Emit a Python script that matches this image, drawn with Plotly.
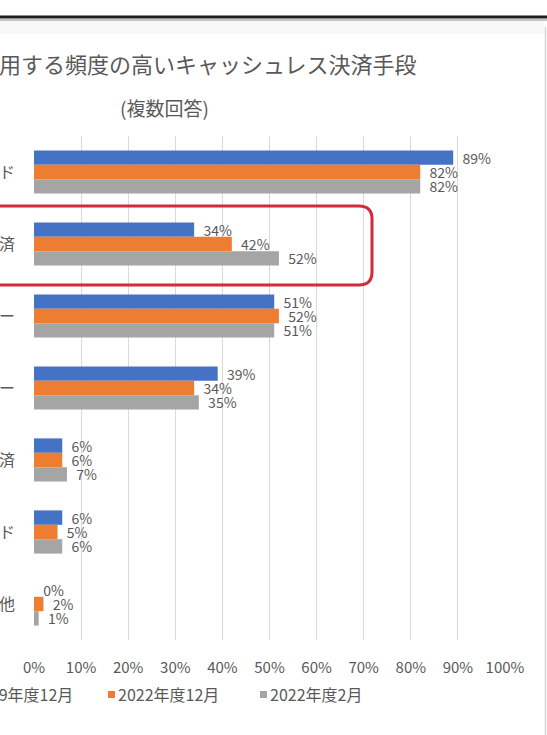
import plotly.graph_objects as go

categories = ["クレジットカード", "QRコード決済", "交通系電子マネー", "流通系電子マネー",
              "スマホのタッチ決済", "デビットカード", "その他"]
series_names = ["2019年度12月", "2022年度12月", "2022年度2月"]
vals_2019_12 = [0.89, 0.34, 0.51, 0.39, 0.06, 0.06, 0.00]
vals_2022_12 = [0.82, 0.42, 0.52, 0.34, 0.06, 0.05, 0.02]
vals_2022_02 = [0.82, 0.52, 0.51, 0.35, 0.07, 0.06, 0.01]
colors = ["#4472C4", "#ED7D31", "#A5A5A5"]
x_ticks = [i / 10 for i in range(11)]
title_line1 = "よく利用する頻度の高いキャッシュレス決済手段"
title_line2 = "(複数回答)"

W, H = 547, 735
L, R, T, B = 34, 42, 136, 95
PW, PH = W - L - R, H - T - B
FONT = "Noto Sans CJK JP, Noto Sans, sans-serif"
GRAY_TXT = "#595959"


def px_x(p):
    return (p - L) / PW


def px_y(p):
    return (H - B - p) / PH


fig = go.Figure()
for name, vals, col in zip(series_names, [vals_2019_12, vals_2022_12, vals_2022_02], colors):
    fig.add_trace(go.Bar(
        y=categories, x=vals, name=name, orientation="h",
        marker=dict(color=col, line=dict(width=0)),
        texttemplate="\u00a0\u00a0%{x:.0%}", textposition="outside",
        textfont=dict(size=14, color=GRAY_TXT, family=FONT),
        cliponaxis=False, constraintext="none", showlegend=False,
    ))

shapes = []
# page border lines
shapes.append(dict(type="line", xref="paper", yref="paper", x0=px_x(-5), x1=px_x(W + 5),
                   y0=px_y(17), y1=px_y(17), line=dict(color="#1e1e1e", width=3)))
shapes.append(dict(type="line", xref="paper", yref="paper", x0=px_x(-5), x1=px_x(W + 5),
                   y0=px_y(20), y1=px_y(20), line=dict(color="#c4c4c4", width=2)))
shapes.append(dict(type="rect", xref="paper", yref="paper", x0=px_x(-5), x1=px_x(545),
                   y0=px_y(34), y1=px_y(21), fillcolor="#f8f8f8", line=dict(width=0), layer="below"))
shapes.append(dict(type="line", xref="paper", yref="paper", x0=px_x(545.5), x1=px_x(545.5),
                   y0=px_y(27), y1=px_y(H + 5), line=dict(color="#d6d6d6", width=1.5)))

# red rounded highlight box around second category
x0, x1 = px_x(-30), px_x(372)
y0, y1 = px_y(285), px_y(206)
rx, ry = 13 / PW, 13 / PH
path = (f"M {x0},{y1} L {x1-rx},{y1} Q {x1},{y1} {x1},{y1-ry} "
        f"L {x1},{y0+ry} Q {x1},{y0} {x1-rx},{y0} L {x0},{y0} Z")
shapes.append(dict(type="path", xref="paper", yref="paper", path=path,
                   line=dict(color="#D42A3B", width=3), fillcolor="rgba(0,0,0,0)"))

annotations = [
    dict(text=title_line1, xref="paper", yref="paper", x=px_x(419), y=px_y(63),
         xanchor="right", yanchor="middle", showarrow=False,
         font=dict(size=22, color=GRAY_TXT, family=FONT)),
    dict(text=title_line2, xref="paper", yref="paper", x=px_x(164), y=px_y(107),
         xanchor="center", yanchor="middle", showarrow=False,
         font=dict(size=19, color=GRAY_TXT, family=FONT)),
]

# legend (manual, partially cut off at left like the reference)
legend_text_right = [75, None, None]
legend_text_left = [None, 116, 268]
legend_marker_left = [-45, 108, 260]
ly = 694
for i, name in enumerate(series_names):
    if legend_text_right[i] is not None:
        annotations.append(dict(text=name, xref="paper", yref="paper", x=px_x(legend_text_right[i]),
                                y=px_y(ly), xanchor="right", yanchor="middle", showarrow=False,
                                font=dict(size=16, color=GRAY_TXT, family=FONT)))
    else:
        annotations.append(dict(text=name, xref="paper", yref="paper", x=px_x(legend_text_left[i]),
                                y=px_y(ly), xanchor="left", yanchor="middle", showarrow=False,
                                font=dict(size=16, color=GRAY_TXT, family=FONT)))
    m = legend_marker_left[i]
    shapes.append(dict(type="rect", xref="paper", yref="paper", x0=px_x(m), x1=px_x(m + 7),
                       y0=px_y(ly + 4), y1=px_y(ly - 3), fillcolor=colors[i], line=dict(width=0)))

fig.update_layout(
    template="none",
    width=W, height=H,
    margin=dict(l=L, r=R, t=T, b=B, pad=0),
    paper_bgcolor="white", plot_bgcolor="white",
    barmode="group", bargap=0.4, bargroupgap=0.0,
    font=dict(family=FONT, color=GRAY_TXT),
    shapes=shapes, annotations=annotations,
    showlegend=False,
    xaxis=dict(range=[0, 1], tickvals=x_ticks, tickformat=".0%", showgrid=True,
               gridcolor="#d9d9d9", gridwidth=1, zeroline=False, showline=False,
               ticks="", tickfont=dict(size=15, color=GRAY_TXT, family=FONT),
               ticklabelstandoff=17, automargin=False, fixedrange=True),
    yaxis=dict(type="category", autorange="reversed", showgrid=False, zeroline=False,
               showline=False, ticks="", tickfont=dict(size=16, color=GRAY_TXT, family=FONT),
               ticklabelstandoff=18, automargin=False, fixedrange=True),
)

fig.write_html("out.html")
